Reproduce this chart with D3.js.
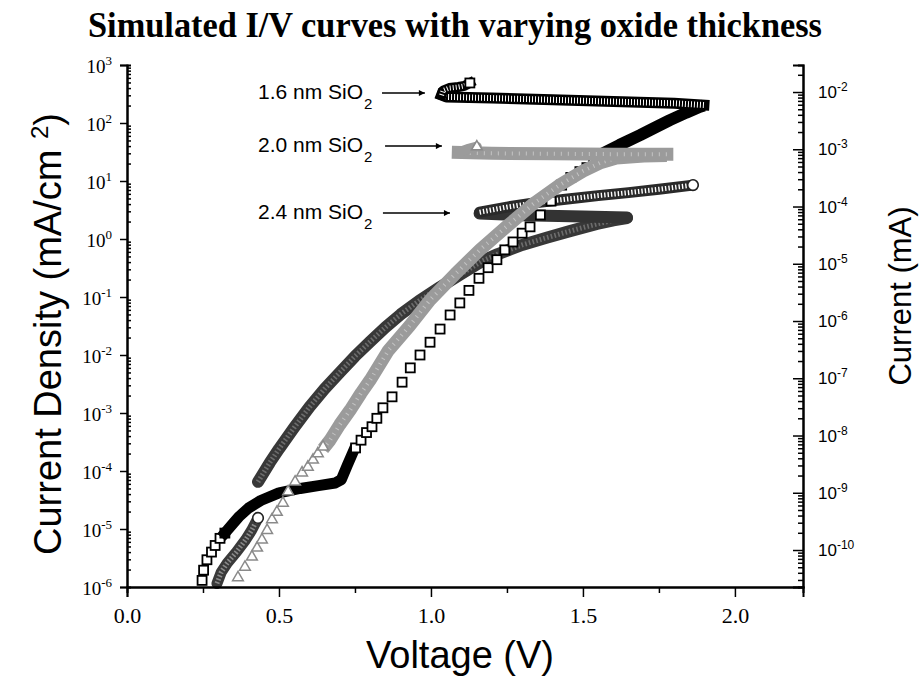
<!DOCTYPE html>
<html><head><meta charset="utf-8">
<script src="https://cdn.jsdelivr.net/npm/d3@7"></script>
<style>body{margin:0;background:#fff}svg{display:block}</style>
</head><body>
<svg id="c" width="921" height="683"></svg>
<script>
// ---------- DATA (Voltage V, Current density mA/cm^2) ----------
// 1.6 nm SiO2 (open squares)
const ox16MarksLow = [[0.247,1.3e-6],[0.252,1.95e-6],[0.263,2.95e-6],[0.278,4.0e-6],[0.290,5.2e-6],[0.306,6.9e-6],[0.322,8.5e-6]];
const ox16BandLow = [[0.322,8.5e-6],[0.35,1.26e-5],[0.37,1.66e-5],[0.40,2.3e-5],[0.44,3.1e-5],[0.50,4.2e-5],[0.57,5.0e-5],[0.63,5.6e-5],[0.685,6.2e-5],[0.705,7.1e-5],[0.725,1.26e-4],[0.745,2.2e-4]];
const ox16MarksMid = [[0.752,2.5e-4],[0.770,3.4e-4],[0.788,4.6e-4],[0.806,5.8e-4],[0.822,8.1e-4],[0.842,1.23e-3],[0.872,1.9e-3],[0.905,3.4e-3],[0.932,6.0e-3],[0.964,1.0e-2],[0.997,1.66e-2],[1.030,2.8e-2],[1.063,4.9e-2],[1.095,7.9e-2],[1.125,0.13],[1.158,0.21],[1.188,0.32],[1.217,0.44],[1.243,0.65],[1.270,0.89],[1.300,1.26],[1.326,1.62],[1.360,2.6],[1.395,4.5],[1.430,8.5],[1.460,11.5],[1.490,14.5],[1.513,17],[1.535,20],[1.556,23]];
const ox16BandTop = [[1.556,23],[1.566,30],[1.62,41.7],[1.688,61.7],[1.74,85],[1.786,112],[1.84,151],[1.885,190],[1.898,200]];
const ox16Return = [[1.898,204],[1.80,219],[1.60,234],[1.40,251],[1.20,269],[1.05,282],[1.035,302]];
const ox16Hook = [[1.035,302],[1.04,363],[1.06,400],[1.09,417],[1.11,437],[1.128,490]];
// 2.0 nm SiO2 (triangles)
const ox20Marks = [[0.365,1.45e-6],[0.388,2.2e-6],[0.411,3.3e-6],[0.428,4.7e-6],[0.444,6.5e-6],[0.461,9.5e-6],[0.477,1.45e-5],[0.493,1.95e-5],[0.513,2.8e-5],[0.530,4.4e-5],[0.553,6.5e-5],[0.576,9.3e-5],[0.595,1.17e-4],[0.612,1.55e-4],[0.628,2.0e-4],[0.645,2.6e-4]];
const ox20Band = [[0.645,2.4e-4],[0.668,3.4e-4],[0.70,6.3e-4],[0.734,1.12e-3],[0.77,2.2e-3],[0.80,3.7e-3],[0.86,1.2e-2],[0.93,3.2e-2],[0.997,8.9e-2],[1.08,0.25],[1.161,0.65],[1.25,1.66],[1.336,4.0],[1.42,8.3],[1.50,14.8],[1.56,20.9],[1.61,25],[1.70,27],[1.776,27.5]];
const ox20Return = [[1.776,29],[1.60,29],[1.40,29.5],[1.20,30],[1.09,31]];
const ox20Hook = [[1.09,31],[1.12,35.5],[1.151,39]];
// 2.4 nm SiO2 (circles)
const ox24Low = [[0.296,1.15e-6],[0.31,1.8e-6],[0.33,2.6e-6],[0.36,4.0e-6],[0.39,6.5e-6],[0.41,9.5e-6],[0.431,1.55e-5]];
const ox24Rise = [[0.431,6.5e-5],[0.47,1.4e-4],[0.50,2.4e-4],[0.55,5.6e-4],[0.60,1.26e-3],[0.65,2.6e-3],[0.70,5.0e-3],[0.75,9.5e-3],[0.80,1.7e-2],[0.85,3.0e-2],[0.90,5.0e-2],[0.96,8.5e-2],[1.03,0.148],[1.105,0.26],[1.17,0.42],[1.22,0.55],[1.30,0.79],[1.38,1.05],[1.46,1.38],[1.546,1.82],[1.60,2.1],[1.645,2.3]];
const ox24Return = [[1.645,2.35],[1.50,2.45],[1.30,2.57],[1.16,2.75]];
const ox24Rise2 = [[1.16,2.9],[1.25,3.55],[1.35,4.27],[1.45,4.9],[1.55,5.6],[1.65,6.3],[1.75,7.2],[1.862,8.5]];

// ticks / labels
const xMajor = [0, 0.5, 1.0, 1.5, 2.0];
const xMinor = [0.25, 0.75, 1.25, 1.75];
const leftExp = [-6,-5,-4,-3,-2,-1,0,1,2,3];
const rightExp = [-10,-9,-8,-7,-6,-5,-4,-3,-2];
const annotations = [
  {label:"1.6 nm SiO", textV:0.431, tailV:0.839, tipV:0.980, J:329},
  {label:"2.0 nm SiO", textV:0.431, tailV:0.849, tipV:1.036, J:40},
  {label:"2.4 nm SiO", textV:0.431, tailV:0.842, tipV:1.0625, J:2.8}
];

// ---------- SCALES ----------
const svg = d3.select("#c");
const x = d3.scaleLinear().domain([0, 2.224]).range([127, 803]);
const yL = d3.scaleLog().domain([1e-6, 1e3]).range([587, 65]);
const yR = d3.scaleLog().domain([Math.pow(10,-10.646), Math.pow(10,-1.528)]).range([587, 65]);
const line = d3.line().x(d => x(d[0])).y(d => yL(d[1]));

const serif = "'Liberation Serif','Times New Roman',serif";
const sans = "'Liberation Sans',Arial,sans-serif";

// ---------- DATA LAYERS ----------
const plot = svg.append("g");
function band(data, o) {
  plot.append("path").datum(data).attr("d", line).attr("fill","none")
    .attr("stroke", o.color).attr("stroke-width", o.w)
    .attr("stroke-linecap", o.cap || "round").attr("stroke-linejoin","round");
  if (o.stripe) plot.append("path").datum(data).attr("d", line).attr("fill","none")
    .attr("stroke", o.stripe).attr("stroke-width", o.sw).attr("stroke-dasharray", o.dash)
    .attr("stroke-linecap","butt").attr("stroke-linejoin","round").attr("opacity", o.op || 1);
}
// 2.4 nm (bottom layer)
band(ox24Low, {color:"#3a3a3a", w:11, stripe:"#8a8a8a", sw:5, dash:"1.6,2"});
band(ox24Rise, {color:"#383838", w:12, stripe:"#7a7a7a", sw:5, dash:"1.6,2.2", op:0.8});
band(ox24Return, {color:"#333", w:12});
band(ox24Rise2, {color:"#2a2a2a", w:11, stripe:"#ffffff", sw:5, dash:"1.4,2"});
plot.selectAll("circle.e24").data([ox24Low[ox24Low.length-1], ox24Rise2[ox24Rise2.length-1]]).enter()
  .append("circle").attr("cx", d => x(d[0])).attr("cy", d => yL(d[1])).attr("r", 5.3)
  .attr("fill","#fff").attr("stroke","#222").attr("stroke-width",1.6);

// 1.6 nm (middle layer)
function squares(data) {
  plot.append("g").selectAll("rect").data(data).enter().append("rect")
    .attr("x", d => x(d[0]) - 4.5).attr("y", d => yL(d[1]) - 4.5)
    .attr("width", 9).attr("height", 9)
    .attr("fill","#fff").attr("stroke","#000").attr("stroke-width",1.8);
}
squares(ox16MarksLow);
band(ox16BandLow, {color:"#000", w:11, cap:"square"});
squares(ox16MarksMid);
band(ox16BandTop, {color:"#000", w:12, cap:"butt"});
band(ox16Return, {color:"#000", w:11, cap:"square", stripe:"#fff", sw:6, dash:"1,2"});
band(ox16Hook, {color:"#000", w:10, cap:"square", stripe:"#fff", sw:5, dash:"1,2"});
squares([ox16Hook[ox16Hook.length-1]]);

// 2.0 nm (top layer)
const tri = d3.symbol().type(d3.symbolTriangle).size(50);
band(ox20Band, {color:"#9b9b9b", w:13, cap:"butt", stripe:"#c4c4c4", sw:4, dash:"1,5"});
band(ox20Return, {color:"#9b9b9b", w:13, cap:"square", stripe:"#c4c4c4", sw:4, dash:"1,6"});
band(ox20Hook, {color:"#9b9b9b", w:10, cap:"round"});
plot.append("g").selectAll("path").data(ox20Marks.concat([ox20Hook[ox20Hook.length-1]])).enter().append("path")
  .attr("d", tri).attr("transform", d => `translate(${x(d[0])},${yL(d[1])})`)
  .attr("fill","#fff").attr("stroke","#8a8a8a").attr("stroke-width",1.5);

// ---------- AXES ----------
const ax = svg.append("g").attr("font-family", serif);
// bottom
const gx = ax.append("g").attr("transform", "translate(0,587)")
  .call(d3.axisBottom(x).tickValues(xMajor).tickSize(10).tickFormat(d3.format(".1f")));
gx.selectAll("text").attr("font-size", 22).attr("font-family", serif).attr("fill","#000").attr("dy","1.05em");
ax.append("g").attr("transform", "translate(0,587)")
  .call(d3.axisBottom(x).tickValues(xMinor).tickSize(6).tickFormat(""));
// left
const minorL = [];
leftExp.slice(0,-1).forEach(k => { for (let m = 2; m <= 9; m++) minorL.push(m * Math.pow(10, k)); });
ax.append("g").attr("transform","translate(127,0)")
  .call(d3.axisLeft(yL).tickValues(leftExp.map(k => Math.pow(10,k))).tickSize(7).tickFormat(""));
ax.append("g").attr("transform","translate(127,0)")
  .call(d3.axisRight(yL).tickValues(minorL).tickSize(4).tickFormat(""));
// right
const minorR = [];
for (let k = -11; k <= -2; k++) for (let m = 2; m <= 9; m++) { const v = m * Math.pow(10,k); if (yR(v) <= 587 && yR(v) >= 65) minorR.push(v); }
ax.append("g").attr("transform","translate(803,0)")
  .call(d3.axisLeft(yR).tickValues(rightExp.map(k => Math.pow(10,k))).tickSize(10).tickFormat(""));
ax.append("g").attr("transform","translate(803,0)")
  .call(d3.axisLeft(yR).tickValues(minorR).tickSize(5).tickFormat(""));
ax.selectAll("path.domain").attr("stroke-width", 2);
ax.selectAll(".tick line").attr("stroke-width", 1.5);

// left labels
leftExp.forEach(k => {
  const t = svg.append("text").attr("x", 112).attr("y", yL(Math.pow(10,k)) + 8)
    .attr("text-anchor","end").attr("font-family", serif).attr("font-size", 19);
  t.append("tspan").text("10");
  t.append("tspan").attr("font-size", 13).attr("dy", -8).text(String(k));
});
// right labels
rightExp.forEach(k => {
  const t = svg.append("text").attr("x", 818).attr("y", yR(Math.pow(10,k)) + 6)
    .attr("font-family", sans).attr("font-size", 17);
  t.append("tspan").text("10");
  t.append("tspan").attr("font-size", 12).attr("dy", -7).text(String(k));
});

// titles
svg.append("text").attr("x", 455).attr("y", 37).attr("text-anchor","middle")
  .attr("font-family", serif).attr("font-weight","bold").attr("font-size", 36)
  .attr("textLength", 734).attr("lengthAdjust","spacingAndGlyphs")
  .text("Simulated I/V curves with varying oxide thickness");
svg.append("text").attr("x", 460).attr("y", 668).attr("text-anchor","middle")
  .attr("font-family", sans).attr("font-size", 38).text("Voltage (V)");
const lt = svg.append("text").attr("transform","translate(61,334) rotate(-90)").attr("text-anchor","middle")
  .attr("font-family", sans).attr("font-size", 38);
lt.append("tspan").text("Current Density (mA/cm ");
lt.append("tspan").attr("font-size", 24).attr("dy", -13).text("2");
lt.append("tspan").attr("dy", 13).text(")");
svg.append("text").attr("transform","translate(911,296) rotate(-90)").attr("text-anchor","middle")
  .attr("font-family", sans).attr("font-size", 31).text("Current (mA)");

// annotations
const defs = svg.append("defs");
defs.append("marker").attr("id","ah").attr("viewBox","0 0 10 10").attr("refX",10).attr("refY",5)
  .attr("markerWidth",12).attr("markerHeight",6).attr("markerUnits","userSpaceOnUse").attr("orient","auto")
  .append("path").attr("d","M0,0L10,5L0,10z").attr("fill","#000");
annotations.forEach(a => {
  const yy = yL(a.J);
  const t = svg.append("text").attr("x", x(a.textV)).attr("y", yy + 6)
    .attr("font-family", sans).attr("font-size", 21);
  t.append("tspan").text(a.label);
  t.append("tspan").attr("font-size", 15).attr("dy", 10).attr("dx", 1).text("2");
  svg.append("line").attr("x1", x(a.tailV)).attr("x2", x(a.tipV)).attr("y1", yy).attr("y2", yy)
    .attr("stroke","#000").attr("stroke-width",1.5).attr("marker-end","url(#ah)");
});
</script>
</body></html>
